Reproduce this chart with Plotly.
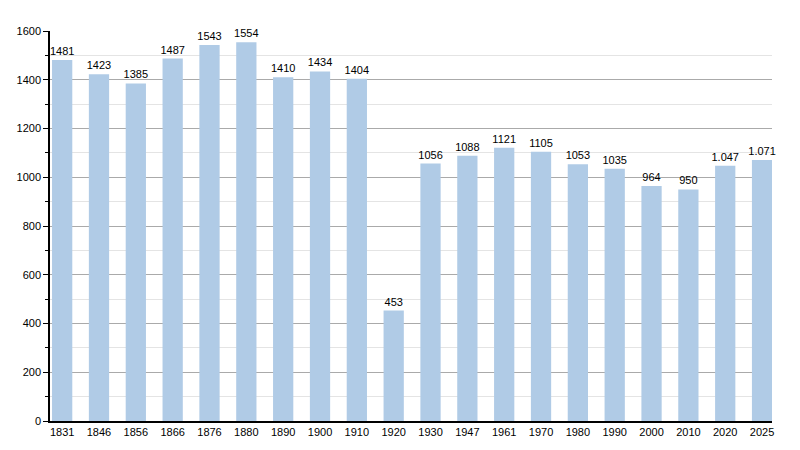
import plotly.graph_objects as go

years = ["1831","1846","1856","1866","1876","1880","1890","1900","1910","1920",
         "1930","1947","1961","1970","1980","1990","2000","2010","2020","2025"]
population = [1481,1423,1385,1487,1543,1554,1410,1434,1404,453,
              1056,1088,1121,1105,1053,1035,964,950,1047,1071]
labels = ["1481","1423","1385","1487","1543","1554","1410","1434","1404","453",
          "1056","1088","1121","1105","1053","1035","964","950","1.047","1.071"]
y_ticks = [0,200,400,600,800,1000,1200,1400,1600]

fig = go.Figure(go.Bar(
    x=list(range(len(years))), y=population, text=labels,
    textposition="outside", cliponaxis=False,
    textfont=dict(family="Liberation Sans, Arial", size=11, color="#000"),
    marker=dict(color="#b0cbe6", line=dict(width=0)),
    width=0.55,
))
fig.update_layout(
    width=800, height=450,
    margin=dict(l=42, r=36, t=23, b=37, autoexpand=False),
    paper_bgcolor="white", plot_bgcolor="white",
    font=dict(family="Liberation Sans, Arial", size=11, color="#000"),
    showlegend=False,
    uniformtext=dict(minsize=11, mode="show"),
)
fig.update_xaxes(
    tickmode="array", tickvals=list(range(len(years))), ticktext=years,
    range=[-0.33, 19.27], showline=True, linecolor="black", linewidth=1.5,
    ticks="outside", ticklen=0, showgrid=False, zeroline=False, tickfont=dict(size=11),
)
fig.update_yaxes(
    range=[0, 1600], tickvals=y_ticks, showline=True, linecolor="black", linewidth=1.5,
    ticks="outside", ticklen=5, tickcolor="black",
    showgrid=True, gridcolor="#aaaaaa", gridwidth=1, zeroline=False,
    minor=dict(dtick=100, showgrid=True, gridcolor="#e4e4e4", ticks="outside", ticklen=3, tickcolor="black"),
    tickfont=dict(size=11),
)
fig.write_html("out.html")
